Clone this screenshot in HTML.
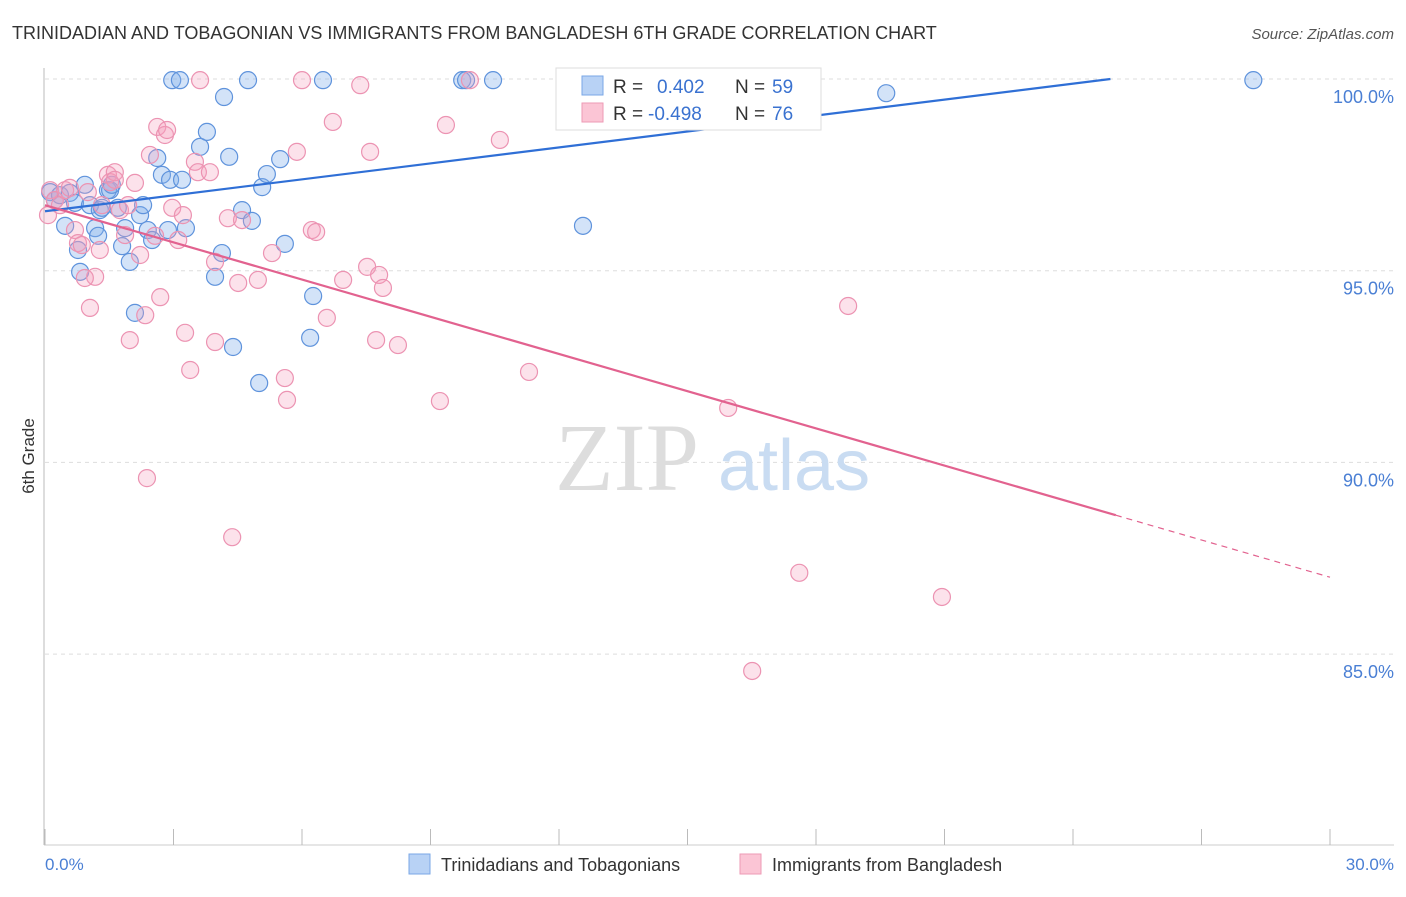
<!DOCTYPE html>
<html><head><meta charset="utf-8"><style>
body{margin:0;background:#fff;font-family:"Liberation Sans",sans-serif;}
</style></head><body>
<svg id="chart" width="1406" height="892" xmlns="http://www.w3.org/2000/svg" font-family="Liberation Sans, sans-serif">
<text x="12" y="39" font-size="18" fill="#333">TRINIDADIAN AND TOBAGONIAN VS IMMIGRANTS FROM BANGLADESH 6TH GRADE CORRELATION CHART</text>
<text x="1394" y="39" font-size="15" fill="#555" font-style="italic" text-anchor="end">Source: ZipAtlas.com</text>
<g id="grid"></g>
<text x="555" y="490" font-size="96" font-family="Liberation Serif, serif" fill="#ddd">ZIP</text>
<text x="718" y="490" font-size="72" fill="#c9dcf2">atlas</text>
<g id="pts"></g>
<g id="lines"></g>
<text transform="translate(34,456) rotate(-90)" font-size="17" fill="#333" text-anchor="middle">6th Grade</text>
<text x="45" y="870" font-size="17" fill="#4a7fd4">0.0%</text>
<text x="1394" y="870" font-size="17" fill="#4a7fd4" text-anchor="end">30.0%</text>
<g>
<rect x="556" y="68" width="265" height="62" fill="#fff" stroke="#ddd"/>
<rect x="582" y="76" width="21" height="19" fill="#b8d2f5" stroke="#7aa7e6"/>
<rect x="582" y="103" width="21" height="19" fill="#fbc5d5" stroke="#ee9ab5"/>
<text x="613" y="93" font-size="19" fill="#333">R =</text>
<text x="657" y="93" font-size="19" fill="#3a72d0">0.402</text>
<text x="735" y="93" font-size="19" fill="#333">N =</text>
<text x="772" y="93" font-size="19" fill="#3a72d0">59</text>
<text x="613" y="120" font-size="19" fill="#333">R =</text>
<text x="648" y="120" font-size="19" fill="#3a72d0">-0.498</text>
<text x="735" y="120" font-size="19" fill="#333">N =</text>
<text x="772" y="120" font-size="19" fill="#3a72d0">76</text>
</g>
<g>
<rect x="409" y="854" width="21" height="20" fill="#b8d2f5" stroke="#7aa7e6"/>
<text x="441" y="871" font-size="18" fill="#333">Trinidadians and Tobagonians</text></g>
<g>
<rect x="740" y="854" width="21" height="20" fill="#fbc5d5" stroke="#ee9ab5"/>
<text x="772" y="871" font-size="18" fill="#333">Immigrants from Bangladesh</text></g>
</svg>
<script>
const blueX=[0.12,0.23,0.35,0.47,0.58,0.70,0.77,0.82,0.93,1.05,1.17,1.24,1.28,1.33,1.47,1.52,1.56,1.70,1.80,1.87,1.98,2.10,2.22,2.29,2.40,2.50,2.62,2.73,2.87,2.92,2.97,3.15,3.20,3.29,3.62,3.78,3.97,4.13,4.18,4.30,4.39,4.60,4.74,4.83,5.00,5.07,5.18,5.49,5.60,6.19,6.26,6.49,9.74,9.83,10.46,12.56,13.43,19.64,28.21];
const blueY=[97.05,96.84,96.97,96.17,97.03,96.77,95.54,94.97,97.24,96.71,96.11,95.91,96.58,96.64,97.10,97.10,97.24,96.64,95.64,96.11,95.23,93.90,96.45,96.71,96.06,95.80,97.94,97.50,96.06,97.37,99.97,99.97,97.37,96.11,98.23,98.62,94.84,95.46,99.53,97.97,93.01,96.58,99.97,96.30,92.07,97.18,97.52,97.91,95.70,93.25,94.34,99.97,99.97,99.97,99.97,96.17,99.06,99.63,99.97];
const pinkX=[0.07,0.12,0.23,0.35,0.47,0.58,0.70,0.77,0.86,1.00,1.05,1.17,1.28,1.33,1.47,1.52,1.63,1.75,1.87,1.94,1.98,2.10,2.22,2.34,2.38,2.45,2.57,2.62,2.69,2.80,2.85,2.97,3.11,3.22,3.27,3.39,3.50,3.57,3.85,3.97,3.97,4.27,4.37,4.51,4.60,4.97,5.30,5.60,5.65,5.88,6.00,6.23,6.33,6.58,6.72,6.96,7.36,7.52,7.59,7.73,7.80,7.89,8.24,9.22,9.36,9.92,10.62,11.30,15.95,17.61,18.75,20.94,16.51,3.62,1.63,0.93];
const pinkY=[96.45,97.10,96.84,96.71,97.10,97.16,96.06,95.72,95.67,97.05,94.03,94.84,95.54,96.71,97.50,97.31,97.57,96.58,95.93,96.71,93.19,97.29,95.41,93.84,89.59,98.02,95.91,98.75,94.31,98.54,98.67,96.64,95.80,96.45,93.38,92.41,97.84,97.57,97.57,95.23,93.14,96.37,88.05,94.68,96.32,94.76,95.46,92.20,91.63,98.10,99.97,96.06,96.01,93.77,98.88,94.76,99.84,95.10,98.10,93.19,94.89,94.55,93.06,91.60,98.80,99.97,98.41,92.36,91.42,87.12,94.08,86.49,84.56,99.97,97.37,94.81];
const blueTrend=[96.55,0.1387];
const pinkTrend=[96.71,-0.3235];
const yTicks=[100,95,90,85];
const yTickLabels=["100.0%","95.0%","90.0%","85.0%"];
const NS="http://www.w3.org/2000/svg";
const xS=x=>45+x/30*1285, yS=y=>79+(100-y)/5*191.7;
function mk(t,a,p){const e=document.createElementNS(NS,t);for(const k in a)e.setAttribute(k,a[k]);p.appendChild(e);return e;}
const grid=document.getElementById('grid');
yTicks.forEach((v,i)=>{
 const l=mk('line',{x1:45,x2:1394,y1:yS(v),y2:yS(v),stroke:'#ddd','stroke-dasharray':'4,4'},grid);
 
 
 const t=mk('text',{x:1394,y:yS(v)+24,'font-size':18,fill:'#4a7fd4','text-anchor':'end'},grid);
 t.textContent=yTickLabels[i];
 
 
});
const ax=mk('line',{x1:44,x2:44,y1:68,y2:845,stroke:'#bbb'},grid);


const bx=mk('line',{x1:44,x2:1394,y1:845,y2:845,stroke:'#ccc'},grid);


for(let i=0;i<=10;i++){const x=xS(i*3);
 const tk=mk('line',{x1:x,x2:x,y1:829,y2:845,stroke:'#bbb'},grid);
 
 }
const pts=document.getElementById('pts');
blueX.forEach((x,i)=>{const c=mk('circle',{cx:xS(x),cy:yS(blueY[i]),r:8.5,fill:'rgba(130,175,235,0.35)',stroke:'#5f93dc','stroke-width':1.2},pts);
 
 });
pinkX.forEach((x,i)=>{const c=mk('circle',{cx:xS(x),cy:yS(pinkY[i]),r:8.5,fill:'rgba(245,160,190,0.3)',stroke:'#ec93b2','stroke-width':1.2},pts);
 
 });
const lines=document.getElementById('lines');
const bEnd=(100-blueTrend[0])/blueTrend[1];
const bl=mk('line',{x1:xS(0),y1:yS(blueTrend[0]),x2:xS(bEnd),y2:yS(100),stroke:'#2f6fd6','stroke-width':2.2},lines);


const pf=x=>pinkTrend[0]+pinkTrend[1]*x;
const pl=mk('line',{x1:xS(0),y1:yS(pf(0)),x2:xS(25),y2:yS(pf(25)),stroke:'#e2628f','stroke-width':2.2},lines);


const pd=mk('line',{x1:xS(25),y1:yS(pf(25)),x2:xS(30),y2:yS(pf(30)),stroke:'#e2628f','stroke-width':1.2,'stroke-dasharray':'6,5'},lines);


</script>
</body></html>
